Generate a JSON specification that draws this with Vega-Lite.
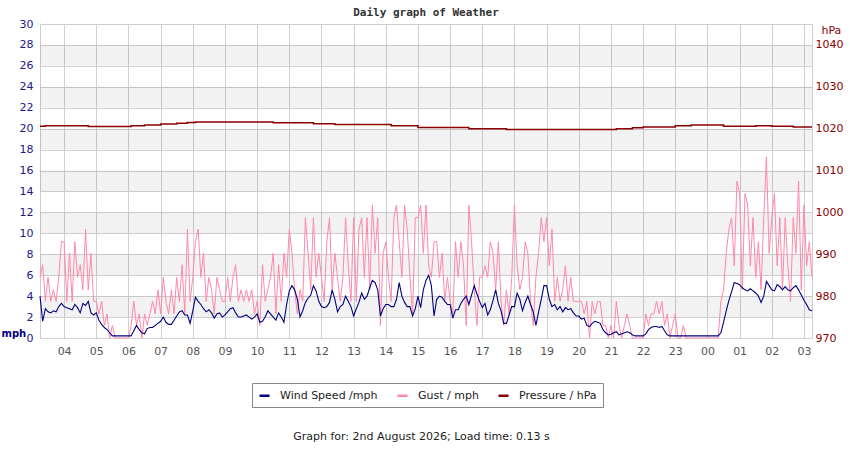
{
  "$schema": "https://vega.github.io/schema/vega-lite/v6.json",
  "description": "Daily graph of weather: wind speed, gust and pressure",
  "width": 772,
  "height": 314,
  "autosize": {"type": "none"},
  "padding": {"left": 40, "top": 24, "right": 38, "bottom": 112},
  "background": "white",
  "title": {"text": "Daily graph of Weather", "font": "DejaVu Sans Mono", "fontSize": 11, "fontWeight": "bold", "color": "#333", "offset": 6, "dy": 6},
  "config": {
    "view": {"stroke": "#cccccc"},
    "font": "DejaVu Sans",
    "axis": {"labelOverlap": false, "labelFont": "DejaVu Sans", "labelFontSize": 11, "titleFont": "DejaVu Sans", "domain": false, "ticks": false}
  },
  "datasets": {
    "bands": [
      {"lo": 2, "hi": 4}, {"lo": 6, "hi": 8}, {"lo": 10, "hi": 12}, {"lo": 14, "hi": 16},
      {"lo": 18, "hi": 20}, {"lo": 22, "hi": 24}, {"lo": 26, "hi": 28}
    ],
    "weather": [
      {"m":195,"w":4.0,"g":5.8,"p":1020.6},{"m":200,"w":1.6,"g":7.0,"p":1020.6},{"m":205,"w":2.8,"g":3.5,"p":1020.7},
      {"m":210,"w":2.5,"g":5.8,"p":1020.7},{"m":215,"w":2.4,"g":3.5,"p":1020.7},{"m":220,"w":2.6,"g":4.6,"p":1020.7},
      {"m":225,"w":2.5,"g":3.5,"p":1020.7},{"m":230,"w":3.0,"g":5.8,"p":1020.7},{"m":235,"w":3.3,"g":9.2,"p":1020.7},
      {"m":240,"w":3.0,"g":9.2,"p":1020.7},{"m":245,"w":2.9,"g":3.5,"p":1020.7},{"m":250,"w":2.8,"g":8.1,"p":1020.7},
      {"m":255,"w":2.7,"g":3.5,"p":1020.7},{"m":260,"w":3.2,"g":9.2,"p":1020.7},{"m":265,"w":2.9,"g":5.8,"p":1020.7},
      {"m":270,"w":2.4,"g":7.0,"p":1020.7},{"m":275,"w":3.3,"g":4.6,"p":1020.7},{"m":280,"w":3.1,"g":10.4,"p":1020.7},
      {"m":285,"w":3.5,"g":4.6,"p":1020.5},{"m":290,"w":2.4,"g":8.1,"p":1020.5},{"m":295,"w":2.2,"g":3.5,"p":1020.5},
      {"m":300,"w":2.4,"g":3.5,"p":1020.5},{"m":305,"w":1.7,"g":2.3,"p":1020.5},{"m":310,"w":1.3,"g":3.5,"p":1020.5},
      {"m":315,"w":1.0,"g":1.2,"p":1020.5},{"m":320,"w":0.8,"g":2.3,"p":1020.5},{"m":325,"w":0.5,"g":0,"p":1020.5},
      {"m":330,"w":0.2,"g":1.2,"p":1020.5},{"m":335,"w":0.2,"g":0,"p":1020.5},{"m":340,"w":0.2,"g":0,"p":1020.5},
      {"m":345,"w":0.2,"g":0,"p":1020.5},{"m":350,"w":0.2,"g":0,"p":1020.5},{"m":355,"w":0.2,"g":0,"p":1020.5},
      {"m":360,"w":0.2,"g":0,"p":1020.5},{"m":365,"w":0.2,"g":1.2,"p":1020.7},{"m":370,"w":0.7,"g":3.5,"p":1020.7},
      {"m":375,"w":1.2,"g":1.2,"p":1020.7},{"m":380,"w":0.8,"g":2.3,"p":1020.7},{"m":385,"w":0.5,"g":0,"p":1020.7},
      {"m":390,"w":0.4,"g":2.3,"p":1020.9},{"m":395,"w":0.9,"g":1.2,"p":1020.9},{"m":400,"w":1.0,"g":2.3,"p":1020.9},
      {"m":405,"w":1.0,"g":3.5,"p":1020.9},{"m":410,"w":1.2,"g":2.3,"p":1020.9},{"m":415,"w":1.4,"g":4.6,"p":1020.9},
      {"m":420,"w":1.6,"g":2.3,"p":1021.1},{"m":425,"w":2.0,"g":5.8,"p":1021.1},{"m":430,"w":1.5,"g":3.5,"p":1021.1},
      {"m":435,"w":1.3,"g":2.3,"p":1021.1},{"m":440,"w":1.3,"g":4.6,"p":1021.1},{"m":445,"w":1.7,"g":2.3,"p":1021.1},
      {"m":450,"w":2.1,"g":5.8,"p":1021.3},{"m":455,"w":2.5,"g":3.5,"p":1021.3},{"m":460,"w":2.6,"g":7.0,"p":1021.3},
      {"m":465,"w":2.2,"g":2.3,"p":1021.3},{"m":470,"w":2.2,"g":10.4,"p":1021.5},{"m":475,"w":1.4,"g":3.5,"p":1021.5},
      {"m":480,"w":2.6,"g":5.8,"p":1021.5},{"m":485,"w":3.9,"g":9.2,"p":1021.6},{"m":490,"w":3.5,"g":10.4,"p":1021.6},
      {"m":495,"w":3.2,"g":5.8,"p":1021.6},{"m":500,"w":2.8,"g":8.1,"p":1021.6},{"m":505,"w":2.5,"g":3.5,"p":1021.6},
      {"m":510,"w":2.7,"g":5.8,"p":1021.6},{"m":515,"w":2.4,"g":4.6,"p":1021.6},{"m":520,"w":1.9,"g":2.3,"p":1021.6},
      {"m":525,"w":2.3,"g":5.8,"p":1021.6},{"m":530,"w":2.4,"g":4.6,"p":1021.6},{"m":535,"w":2.0,"g":3.5,"p":1021.6},
      {"m":540,"w":2.2,"g":3.5,"p":1021.6},{"m":545,"w":2.5,"g":5.8,"p":1021.6},{"m":550,"w":2.8,"g":3.5,"p":1021.6},
      {"m":555,"w":2.9,"g":5.8,"p":1021.6},{"m":560,"w":2.4,"g":7.0,"p":1021.6},{"m":565,"w":2.0,"g":3.5,"p":1021.6},
      {"m":570,"w":2.0,"g":4.6,"p":1021.6},{"m":575,"w":2.1,"g":3.5,"p":1021.6},{"m":580,"w":2.2,"g":4.6,"p":1021.6},
      {"m":585,"w":2.0,"g":3.5,"p":1021.6},{"m":590,"w":1.8,"g":4.6,"p":1021.6},{"m":595,"w":2.0,"g":2.3,"p":1021.6},
      {"m":600,"w":2.3,"g":3.5,"p":1021.6},{"m":605,"w":1.5,"g":1.2,"p":1021.6},{"m":610,"w":1.6,"g":7.0,"p":1021.6},
      {"m":615,"w":2.0,"g":3.5,"p":1021.6},{"m":620,"w":2.6,"g":4.6,"p":1021.6},{"m":625,"w":2.3,"g":5.8,"p":1021.6},
      {"m":630,"w":2.0,"g":8.1,"p":1021.4},{"m":635,"w":1.7,"g":2.3,"p":1021.4},{"m":640,"w":2.4,"g":7.0,"p":1021.4},
      {"m":645,"w":2.0,"g":3.5,"p":1021.4},{"m":650,"w":1.5,"g":8.1,"p":1021.4},{"m":655,"w":3.2,"g":5.8,"p":1021.4},
      {"m":660,"w":4.5,"g":10.4,"p":1021.4},{"m":665,"w":5.0,"g":8.1,"p":1021.4},{"m":670,"w":4.6,"g":4.6,"p":1021.4},
      {"m":675,"w":3.7,"g":2.3,"p":1021.4},{"m":680,"w":2.0,"g":4.6,"p":1021.4},{"m":685,"w":2.6,"g":3.5,"p":1021.4},
      {"m":690,"w":3.4,"g":11.5,"p":1021.4},{"m":695,"w":3.8,"g":8.1,"p":1021.4},{"m":700,"w":4.1,"g":4.6,"p":1021.4},
      {"m":705,"w":5.0,"g":11.5,"p":1021.2},{"m":710,"w":4.5,"g":5.8,"p":1021.2},{"m":715,"w":3.5,"g":8.1,"p":1021.2},
      {"m":720,"w":3.0,"g":5.8,"p":1021.2},{"m":725,"w":2.9,"g":3.5,"p":1021.2},{"m":730,"w":3.0,"g":9.2,"p":1021.2},
      {"m":735,"w":3.4,"g":11.5,"p":1021.2},{"m":740,"w":4.6,"g":4.6,"p":1021.2},{"m":745,"w":3.7,"g":8.1,"p":1021.0},
      {"m":750,"w":2.5,"g":5.8,"p":1021.0},{"m":755,"w":3.0,"g":3.5,"p":1021.0},{"m":760,"w":3.2,"g":5.8,"p":1021.0},
      {"m":765,"w":4.0,"g":11.5,"p":1021.0},{"m":770,"w":3.5,"g":6.9,"p":1021.0},{"m":775,"w":3.0,"g":3.5,"p":1021.0},
      {"m":780,"w":2.1,"g":11.5,"p":1021.0},{"m":785,"w":2.8,"g":3.5,"p":1021.0},{"m":790,"w":3.4,"g":10.4,"p":1021.0},
      {"m":795,"w":4.3,"g":11.5,"p":1021.0},{"m":800,"w":3.7,"g":5.8,"p":1021.0},{"m":805,"w":4.0,"g":11.5,"p":1021.0},
      {"m":810,"w":4.8,"g":4.6,"p":1021.0},{"m":815,"w":5.5,"g":12.7,"p":1021.0},{"m":820,"w":5.3,"g":8.1,"p":1021.0},
      {"m":825,"w":4.6,"g":11.5,"p":1021.0},{"m":830,"w":2.1,"g":1.2,"p":1021.0},{"m":835,"w":2.8,"g":8.1,"p":1021.0},
      {"m":840,"w":3.2,"g":9.2,"p":1021.0},{"m":845,"w":3.2,"g":5.8,"p":1021.0},{"m":850,"w":3.0,"g":3.5,"p":1020.7},
      {"m":855,"w":3.0,"g":11.5,"p":1020.7},{"m":860,"w":3.7,"g":12.7,"p":1020.7},{"m":865,"w":5.3,"g":9.2,"p":1020.7},
      {"m":870,"w":4.0,"g":5.8,"p":1020.7},{"m":875,"w":3.4,"g":12.7,"p":1020.7},{"m":880,"w":3.0,"g":10.4,"p":1020.7},
      {"m":885,"w":3.0,"g":5.8,"p":1020.7},{"m":890,"w":2.1,"g":2.3,"p":1020.7},{"m":895,"w":2.8,"g":11.5,"p":1020.7},
      {"m":900,"w":4.0,"g":11.5,"p":1020.3},{"m":905,"w":2.9,"g":12.7,"p":1020.3},{"m":910,"w":4.6,"g":8.1,"p":1020.3},
      {"m":915,"w":5.5,"g":12.7,"p":1020.3},{"m":920,"w":6.0,"g":6.9,"p":1020.3},{"m":925,"w":5.0,"g":5.8,"p":1020.3},
      {"m":930,"w":2.1,"g":9.2,"p":1020.3},{"m":935,"w":3.7,"g":9.2,"p":1020.3},{"m":940,"w":4.0,"g":5.8,"p":1020.3},
      {"m":945,"w":3.9,"g":8.1,"p":1020.3},{"m":950,"w":3.5,"g":3.5,"p":1020.3},{"m":955,"w":3.2,"g":5.8,"p":1020.3},
      {"m":960,"w":3.2,"g":3.5,"p":1020.3},{"m":965,"w":1.9,"g":2.3,"p":1020.3},{"m":970,"w":2.7,"g":9.2,"p":1020.3},
      {"m":975,"w":2.7,"g":5.8,"p":1020.3},{"m":980,"w":3.3,"g":9.2,"p":1020.3},{"m":985,"w":3.7,"g":6.9,"p":1020.3},
      {"m":990,"w":4.0,"g":1.2,"p":1020.3},{"m":995,"w":3.2,"g":12.7,"p":1020.0},{"m":1000,"w":4.1,"g":9.2,"p":1020.0},
      {"m":1005,"w":5.0,"g":4.6,"p":1020.0},{"m":1010,"w":4.2,"g":1.2,"p":1020.0},{"m":1015,"w":3.5,"g":5.8,"p":1020.0},
      {"m":1020,"w":2.9,"g":5.8,"p":1020.0},{"m":1025,"w":3.3,"g":6.9,"p":1020.0},{"m":1030,"w":2.2,"g":5.8,"p":1020.0},
      {"m":1035,"w":2.7,"g":9.2,"p":1020.0},{"m":1040,"w":3.6,"g":8.1,"p":1020.0},{"m":1045,"w":4.6,"g":4.6,"p":1020.0},
      {"m":1050,"w":3.3,"g":9.2,"p":1020.0},{"m":1055,"w":2.6,"g":3.5,"p":1020.0},{"m":1060,"w":1.4,"g":1.2,"p":1020.0},
      {"m":1065,"w":1.4,"g":4.6,"p":1019.8},{"m":1070,"w":2.2,"g":2.3,"p":1019.8},{"m":1075,"w":3.0,"g":5.8,"p":1019.8},
      {"m":1080,"w":3.0,"g":12.7,"p":1019.8},{"m":1085,"w":4.3,"g":6.9,"p":1019.8},{"m":1090,"w":3.7,"g":4.6,"p":1019.8},
      {"m":1095,"w":2.6,"g":5.8,"p":1019.8},{"m":1100,"w":3.4,"g":9.2,"p":1019.8},{"m":1105,"w":4.0,"g":8.1,"p":1019.8},
      {"m":1110,"w":3.2,"g":3.5,"p":1019.8},{"m":1115,"w":2.5,"g":1.2,"p":1019.8},{"m":1120,"w":1.2,"g":5.8,"p":1019.8},
      {"m":1125,"w":2.5,"g":8.1,"p":1019.8},{"m":1130,"w":3.7,"g":11.5,"p":1019.8},{"m":1135,"w":5.0,"g":9.2,"p":1019.8},
      {"m":1140,"w":5.0,"g":11.5,"p":1019.8},{"m":1145,"w":3.7,"g":6.9,"p":1019.8},{"m":1150,"w":3.0,"g":10.4,"p":1019.8},
      {"m":1155,"w":3.2,"g":3.5,"p":1019.8},{"m":1160,"w":2.7,"g":5.8,"p":1019.8},{"m":1165,"w":3.0,"g":3.5,"p":1019.8},
      {"m":1170,"w":2.5,"g":4.6,"p":1019.8},{"m":1175,"w":2.9,"g":6.9,"p":1019.8},{"m":1180,"w":2.7,"g":3.5,"p":1019.8},
      {"m":1185,"w":2.8,"g":5.8,"p":1019.8},{"m":1190,"w":2.4,"g":3.5,"p":1019.8},{"m":1195,"w":2.1,"g":3.5,"p":1019.8},
      {"m":1200,"w":2.1,"g":3.5,"p":1019.8},{"m":1205,"w":1.8,"g":3.5,"p":1019.8},{"m":1210,"w":1.9,"g":2.3,"p":1019.8},
      {"m":1215,"w":1.2,"g":3.5,"p":1019.8},{"m":1220,"w":1.1,"g":0,"p":1019.8},{"m":1225,"w":1.4,"g":3.5,"p":1019.8},
      {"m":1230,"w":1.6,"g":2.3,"p":1019.8},{"m":1235,"w":1.5,"g":3.5,"p":1019.8},{"m":1240,"w":1.4,"g":3.5,"p":1019.8},
      {"m":1245,"w":0.8,"g":1.2,"p":1019.8},{"m":1250,"w":0.5,"g":1.2,"p":1019.8},{"m":1255,"w":0.3,"g":0,"p":1019.8},
      {"m":1260,"w":0.35,"g":1.2,"p":1019.8},{"m":1265,"w":0.5,"g":0,"p":1019.8},{"m":1270,"w":0.6,"g":3.5,"p":1020.0},
      {"m":1275,"w":0.3,"g":1.2,"p":1020.0},{"m":1280,"w":0.4,"g":0,"p":1020.0},{"m":1285,"w":0.5,"g":1.2,"p":1020.0},
      {"m":1290,"w":0.6,"g":2.3,"p":1020.0},{"m":1295,"w":0.5,"g":1.2,"p":1020.0},{"m":1300,"w":0.3,"g":0,"p":1020.2},
      {"m":1305,"w":0.2,"g":0,"p":1020.2},{"m":1310,"w":0.2,"g":0,"p":1020.2},{"m":1315,"w":0.2,"g":0,"p":1020.2},
      {"m":1320,"w":0.2,"g":0,"p":1020.4},{"m":1325,"w":0.4,"g":2.3,"p":1020.4},{"m":1330,"w":0.8,"g":1.2,"p":1020.4},
      {"m":1335,"w":1.0,"g":2.3,"p":1020.4},{"m":1340,"w":1.1,"g":2.3,"p":1020.4},{"m":1345,"w":1.1,"g":3.5,"p":1020.4},
      {"m":1350,"w":1.0,"g":2.3,"p":1020.4},{"m":1355,"w":1.1,"g":3.5,"p":1020.4},{"m":1360,"w":0.7,"g":1.2,"p":1020.4},
      {"m":1365,"w":0.3,"g":2.3,"p":1020.4},{"m":1370,"w":0.2,"g":0,"p":1020.4},{"m":1375,"w":0.2,"g":1.2,"p":1020.4},
      {"m":1380,"w":0.2,"g":2.3,"p":1020.7},{"m":1385,"w":0.2,"g":0,"p":1020.7},{"m":1390,"w":0.2,"g":0,"p":1020.7},
      {"m":1395,"w":0.2,"g":1.2,"p":1020.7},{"m":1400,"w":0.2,"g":0,"p":1020.7},{"m":1405,"w":0.2,"g":0,"p":1020.7},
      {"m":1410,"w":0.2,"g":0,"p":1020.9},{"m":1415,"w":0.2,"g":0,"p":1020.9},{"m":1420,"w":0.2,"g":0,"p":1020.9},
      {"m":1425,"w":0.2,"g":0,"p":1020.9},{"m":1430,"w":0.2,"g":0,"p":1020.9},{"m":1435,"w":0.2,"g":0,"p":1020.9},
      {"m":1440,"w":0.2,"g":0,"p":1020.9},{"m":1445,"w":0.2,"g":0,"p":1020.9},{"m":1450,"w":0.2,"g":0,"p":1020.9},
      {"m":1455,"w":0.2,"g":0,"p":1020.9},{"m":1460,"w":0.2,"g":0,"p":1020.9},{"m":1465,"w":0.5,"g":3.5,"p":1020.9},
      {"m":1470,"w":1.5,"g":4.6,"p":1020.6},{"m":1475,"w":2.6,"g":8.1,"p":1020.6},{"m":1480,"w":3.6,"g":10.4,"p":1020.6},
      {"m":1485,"w":4.4,"g":11.5,"p":1020.6},{"m":1490,"w":5.3,"g":6.9,"p":1020.6},{"m":1495,"w":5.2,"g":15.0,"p":1020.6},
      {"m":1500,"w":5.1,"g":13.8,"p":1020.6},{"m":1505,"w":4.8,"g":4.6,"p":1020.6},{"m":1510,"w":4.6,"g":13.8,"p":1020.6},
      {"m":1515,"w":4.5,"g":12.7,"p":1020.6},{"m":1520,"w":4.7,"g":6.9,"p":1020.6},{"m":1525,"w":4.5,"g":11.5,"p":1020.6},
      {"m":1530,"w":4.3,"g":5.8,"p":1020.7},{"m":1535,"w":4.0,"g":9.2,"p":1020.7},{"m":1540,"w":3.4,"g":4.6,"p":1020.7},
      {"m":1545,"w":4.0,"g":11.5,"p":1020.7},{"m":1550,"w":5.4,"g":17.3,"p":1020.7},{"m":1555,"w":5.0,"g":8.1,"p":1020.7},
      {"m":1560,"w":4.6,"g":11.5,"p":1020.6},{"m":1565,"w":4.5,"g":13.8,"p":1020.6},{"m":1570,"w":5.1,"g":6.9,"p":1020.6},
      {"m":1575,"w":4.9,"g":11.5,"p":1020.6},{"m":1580,"w":4.6,"g":4.6,"p":1020.6},{"m":1585,"w":4.9,"g":11.5,"p":1020.6},
      {"m":1590,"w":4.6,"g":6.9,"p":1020.6},{"m":1595,"w":4.5,"g":3.5,"p":1020.6},{"m":1600,"w":4.8,"g":11.5,"p":1020.4},
      {"m":1605,"w":5.0,"g":8.1,"p":1020.4},{"m":1610,"w":4.6,"g":15.0,"p":1020.4},{"m":1615,"w":4.1,"g":4.6,"p":1020.4},
      {"m":1620,"w":3.6,"g":12.7,"p":1020.4},{"m":1625,"w":3.2,"g":6.9,"p":1020.4},{"m":1630,"w":2.7,"g":9.2,"p":1020.4},
      {"m":1635,"w":2.6,"g":5.8,"p":1020.4}
    ]
  },
  "data": {"name": "weather"},
  "layer": [
    {
      "layer": [
        {
          "data": {"name": "bands"},
          "mark": {"type": "rect", "fill": "#000000", "opacity": 0.05},
          "encoding": {
            "y": {
              "field": "lo", "type": "quantitative",
              "scale": {"domain": [0, 30], "nice": false},
              "axis": {
                "values": [0, 2, 4, 6, 8, 10, 12, 14, 16, 18, 20, 22, 24, 26, 28, 30],
                "labelOverlap": false, "grid": true, "gridColor": "#d0d0d0",
                "labelPadding": 7, "labelColor": "#1a1a8c",
                "title": "mph", "titleAngle": 0, "titleX": -39, "titleY": 309, "titleAlign": "left",
                "titleBaseline": "middle", "titleColor": "#000080", "titleFontWeight": "bold", "titleFontSize": 10
              }
            },
            "y2": {"field": "hi"}
          }
        },
        {
          "mark": {"type": "line", "strokeWidth": 1},
          "encoding": {
            "x": {
              "field": "m", "type": "quantitative",
              "scale": {"domain": [195, 1635], "nice": false, "zero": false},
              "axis": {
                "values": [240, 300, 360, 420, 480, 540, 600, 660, 720, 780, 840, 900, 960, 1020, 1080, 1140, 1200, 1260, 1320, 1380, 1440, 1500, 1560, 1620],
                "labelExpr": "(datum.value / 60) % 24 < 10 ? '0' + (datum.value / 60) % 24 : '' + (datum.value / 60) % 24",
                "labelOverlap": false, "labelFlush": false, "grid": true, "gridColor": "#d0d0d0",
                "labelPadding": 7, "labelColor": "#555555",
                "title": "Graph for: 2nd August 2026; Load time: 0.13 s",
                "titleX": 381, "titleY": 98, "titleAlign": "center", "titleBaseline": "middle",
                "titleFontWeight": "normal", "titleFontSize": 11, "titleColor": "#222222"
              }
            },
            "y": {
              "field": "g", "type": "quantitative",
              "axis": {
                "values": [0, 2, 4, 6, 8, 10, 12, 14, 16, 18, 20, 22, 24, 26, 28, 30],
                "labelOverlap": false, "grid": true, "gridColor": "#d0d0d0",
                "labelPadding": 7, "labelColor": "#1a1a8c",
                "title": "mph", "titleAngle": 0, "titleX": -39, "titleY": 309, "titleAlign": "left",
                "titleBaseline": "middle", "titleColor": "#000080", "titleFontWeight": "bold", "titleFontSize": 10
              }
            },
            "color": {
              "datum": "Gust / mph",
              "scale": {"domain": ["Wind Speed /mph", "Gust / mph", "Pressure / hPa"], "range": ["#000080", "#ff88aa", "#8b0000"]},
              "legend": {
                "title": null, "orient": "none", "direction": "horizontal", "legendX": 212, "legendY": 359,
                "symbolType": "stroke", "symbolSize": 100, "symbolStrokeWidth": 2.5,
                "labelFont": "DejaVu Sans", "labelFontSize": 11, "labelColor": "#222222", "labelOffset": 9,
                "columnPadding": 14, "padding": 6, "strokeColor": "#888888", "fillColor": "#ffffff"
              }
            }
          }
        },
        {
          "mark": {"type": "line", "strokeWidth": 1.1},
          "encoding": {
            "x": {
              "field": "m", "type": "quantitative",
              "axis": {
                "values": [240, 300, 360, 420, 480, 540, 600, 660, 720, 780, 840, 900, 960, 1020, 1080, 1140, 1200, 1260, 1320, 1380, 1440, 1500, 1560, 1620],
                "labelExpr": "(datum.value / 60) % 24 < 10 ? '0' + (datum.value / 60) % 24 : '' + (datum.value / 60) % 24",
                "labelOverlap": false, "labelFlush": false, "grid": true, "gridColor": "#d0d0d0",
                "labelPadding": 7, "labelColor": "#555555",
                "title": "Graph for: 2nd August 2026; Load time: 0.13 s",
                "titleX": 381, "titleY": 98, "titleAlign": "center", "titleBaseline": "middle",
                "titleFontWeight": "normal", "titleFontSize": 11, "titleColor": "#222222"
              }
            },
            "y": {
              "field": "w", "type": "quantitative",
              "axis": {
                "values": [0, 2, 4, 6, 8, 10, 12, 14, 16, 18, 20, 22, 24, 26, 28, 30],
                "labelOverlap": false, "grid": true, "gridColor": "#d0d0d0",
                "labelPadding": 7, "labelColor": "#1a1a8c",
                "title": "mph", "titleAngle": 0, "titleX": -39, "titleY": 309, "titleAlign": "left",
                "titleBaseline": "middle", "titleColor": "#000080", "titleFontWeight": "bold", "titleFontSize": 10
              }
            },
            "color": {"datum": "Wind Speed /mph"}
          }
        }
      ]
    },
    {
      "mark": {"type": "line", "strokeWidth": 1.5, "interpolate": "step-after"},
      "encoding": {
        "x": {
          "field": "m", "type": "quantitative",
          "axis": {
            "values": [240, 300, 360, 420, 480, 540, 600, 660, 720, 780, 840, 900, 960, 1020, 1080, 1140, 1200, 1260, 1320, 1380, 1440, 1500, 1560, 1620],
            "labelExpr": "(datum.value / 60) % 24 < 10 ? '0' + (datum.value / 60) % 24 : '' + (datum.value / 60) % 24",
            "labelOverlap": false, "labelFlush": false, "grid": true, "gridColor": "#d0d0d0",
            "labelPadding": 7, "labelColor": "#555555",
            "title": "Graph for: 2nd August 2026; Load time: 0.13 s",
            "titleX": 381, "titleY": 98, "titleAlign": "center", "titleBaseline": "middle",
            "titleFontWeight": "normal", "titleFontSize": 11, "titleColor": "#222222"
          }
        },
        "y": {
          "field": "p", "type": "quantitative",
          "scale": {"domain": [970, 1045], "nice": false, "zero": false},
          "axis": {
            "orient": "right", "values": [970, 980, 990, 1000, 1010, 1020, 1030, 1040],
            "format": "d", "labelOverlap": false, "grid": false, "labelPadding": 3, "labelColor": "#8b0000",
            "title": "hPa", "titleAngle": 0, "titleX": 9, "titleY": 6, "titleAlign": "left",
            "titleBaseline": "middle", "titleColor": "#8b0000", "titleFontWeight": "normal", "titleFontSize": 11
          }
        },
        "color": {"datum": "Pressure / hPa"}
      }
    }
  ],
  "resolve": {"scale": {"y": "independent"}}
}
